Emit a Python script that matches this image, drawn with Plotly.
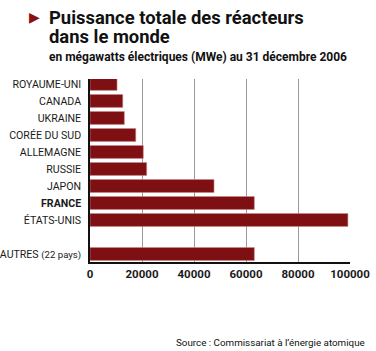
import plotly.graph_objects as go

categories = ["ROYAUME-UNI", "CANADA", "UKRAINE", "CORÉE DU SUD", "ALLEMAGNE",
              "RUSSIE", "JAPON", "FRANCE", "ÉTATS-UNIS", " ", "AUTRES (22 pays)"]
values = [10400, 12600, 13200, 17600, 20500, 21800, 47700, 63200, 99200, None, 63200]
tick_labels = ["ROYAUME-UNI", "CANADA", "UKRAINE", "CORÉE DU SUD", "ALLEMAGNE",
               "RUSSIE", "JAPON", "<b>FRANCE</b>", "ÉTATS-UNIS", "",
               "AUTRES <span style='font-size:9.6px'>(22 pays)</span>"]
x_ticks = [0, 20000, 40000, 60000, 80000, 100000]

FONT = "Roboto"
fig = go.Figure()
fig.add_trace(go.Bar(
    y=categories, x=values, orientation="h",
    marker=dict(color="#7e0f12", line=dict(color="#c98a8a", width=0.6)),
    width=0.76,
    hoverinfo="skip",
))

fig.update_layout(
    width=376, height=351,
    margin=dict(l=90, r=26, t=79, b=89, autoexpand=False),
    paper_bgcolor="white", plot_bgcolor="white",
    showlegend=False,
    font=dict(family=FONT, color="#1a1a1a", size=11),
    bargap=0.2,
)
fig.update_xaxes(
    range=[0, 100000], tickvals=x_ticks, ticktext=[str(v) for v in x_ticks],
    showgrid=True, gridcolor="#9a9a9a", gridwidth=1,
    showline=True, linecolor="#111", linewidth=1.5,
    zeroline=False, ticks="", automargin=False,
    tickfont=dict(family=FONT, size=11.5, color="#1a1a1a", weight="bold"),
    fixedrange=True,
)
fig.update_yaxes(
    type="category", categoryorder="array", categoryarray=categories,
    tickvals=categories, ticktext=tick_labels,
    range=[10.47, -0.29], automargin=False,
    showgrid=False, showline=True, linecolor="#111", linewidth=1.5,
    ticks="", ticklabelstandoff=5,
    tickfont=dict(family=FONT, size=10.6, color="#1a1a1a"),
    fixedrange=True,
)

def px_x(p):
    return (p - 90) / 260

def px_y(p):
    return (262 - p) / 183

# Title block
fig.add_annotation(xref="paper", yref="paper", x=px_x(27), y=px_y(17),
                   text="▶", showarrow=False, xanchor="left", yanchor="middle",
                   font=dict(size=14, color="#8b1014", family="DejaVu Sans"))
fig.add_annotation(xref="paper", yref="paper", x=px_x(47), y=px_y(17),
                   text="<b>Puissance totale des réacteurs</b>",
                   showarrow=False, xanchor="left", yanchor="middle", align="left",
                   font=dict(size=18.4, color="#111", family=FONT))
fig.add_annotation(xref="paper", yref="paper", x=px_x(47), y=px_y(37),
                   text="<b>dans le monde</b>",
                   showarrow=False, xanchor="left", yanchor="middle", align="left",
                   font=dict(size=18.4, color="#111", family=FONT))
fig.add_annotation(xref="paper", yref="paper", x=px_x(47), y=px_y(57),
                   text="<b>en mégawatts électriques (MWe) au 31 décembre 2006</b>",
                   showarrow=False, xanchor="left", yanchor="middle", align="left",
                   font=dict(size=12, color="#111", family=FONT))
fig.add_annotation(xref="paper", yref="paper", x=px_x(367), y=px_y(342),
                   text="Source : Commissariat à l’énergie atomique",
                   showarrow=False, xanchor="right", yanchor="middle",
                   font=dict(size=9.8, color="#111", family=FONT))

fig.write_html("out.html")
